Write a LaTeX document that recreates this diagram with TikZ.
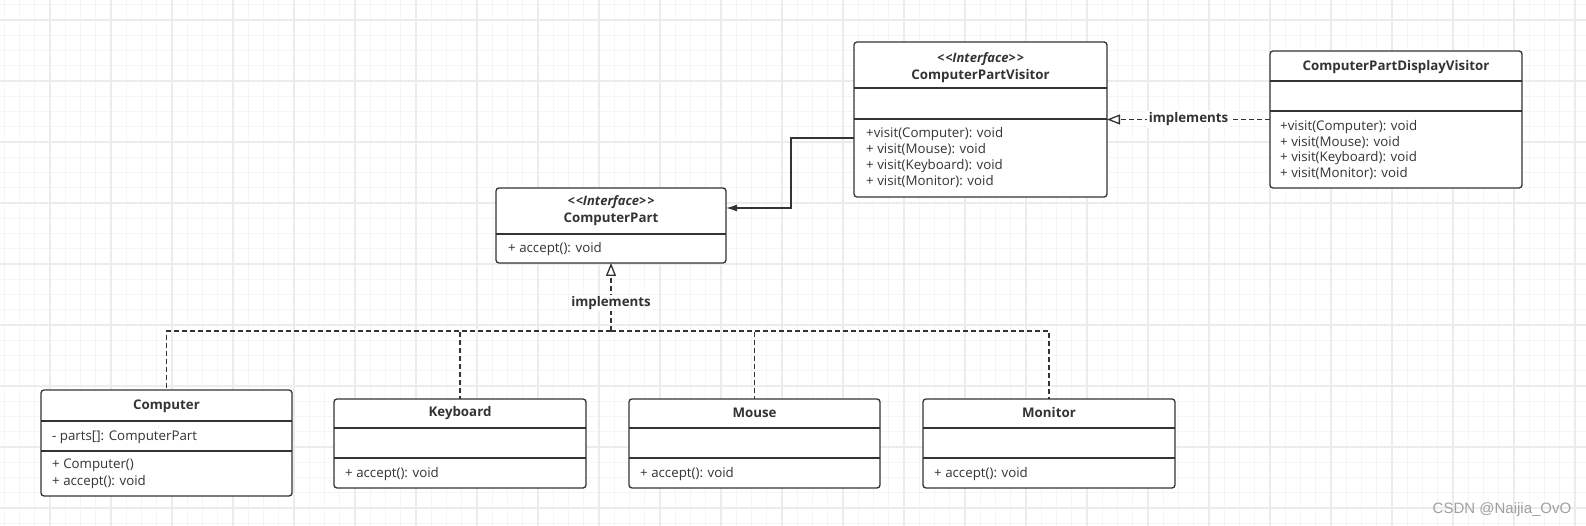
\documentclass[tikz,border=0pt]{standalone}
\usepackage{fontspec}
\setmainfont{Open Sans}
\newfontfamily\wmfont{Liberation Sans}
\usetikzlibrary{arrows.meta}
\definecolor{linec}{HTML}{333333}
\definecolor{txt}{HTML}{333333}
\definecolor{gridminor}{HTML}{F5F5F5}
\definecolor{gridmajor}{HTML}{ECECEC}
\definecolor{wm}{HTML}{A0A0A0}
\tikzset{
  cls/.style={draw=linec, line width=1.3pt, rounded corners=3pt, fill=white, inner sep=0pt, outer sep=0pt},
  divl/.style={draw=linec, line width=1.3pt},
  ttl/.style={font=\bfseries\fontsize{13.3}{15}\selectfont, text=txt, inner sep=0pt},
  stereo/.style={font=\bfseries\itshape\fontsize{13}{15}\selectfont, text=txt, inner sep=0pt},
  mth/.style={font=\fontsize{13.3}{15}\selectfont, anchor=west, inner sep=0pt, text=txt, text height=10pt, text depth=3.5pt},
  impl/.style={draw=linec, line width=1.4pt, dash pattern=on 5pt off 3pt},
  impltip/.style={-{Triangle[open, length=13pt, width=10pt, line width=1.3pt]}},
  assoc/.style={draw=linec, line width=1.3pt, -{Latex[length=11pt, width=7pt]}},
  lbl/.style={font=\bfseries\fontsize{13.3}{15}\selectfont, text=txt, fill=white, inner sep=1.5pt},
}
\newcommand{\stereotxt}{<\kern1pt<Interface>\kern1pt>}
\begin{document}
\begin{tikzpicture}[x=1pt, y=-1pt]
\useasboundingbox (0,0) rectangle (1586,526);
\fill[white] (0,0) rectangle (1586,526);
% grid
\foreach \i in {0,...,103} {\draw[gridminor, line width=1pt] (4.25+15.25*\i,0) -- (4.25+15.25*\i,526);}
\foreach \i in {0,...,34} {\draw[gridminor, line width=1pt] (0,4.75+15.25*\i) -- (1586,4.75+15.25*\i);}
\foreach \i in {0,...,25} {\draw[gridmajor, line width=1.3pt] (50+61*\i,0) -- (50+61*\i,526);}
\foreach \i in {0,...,8} {\draw[gridmajor, line width=1.3pt] (0,20+61*\i) -- (1586,20+61*\i);}

% ComputerPartVisitor
\node[cls, minimum width=253pt, minimum height=155pt] (V) at (980.5,119.5) {};
\draw[divl] (V.west |- 0,88) -- (V.east |- 0,88);
\draw[divl] (V.west |- 0,119) -- (V.east |- 0,119);
\node[stereo] (Vs) at (980.5,59) {\stereotxt};
\node[ttl] (Vt) at (980.5,76) {ComputerPartVisitor};
\node[mth] (Vm1) at (866,134) {+visit(Computer): void};
\node[mth] (Vm2) at (866,150) {+ visit(Mouse): void};
\node[mth] (Vm3) at (866,166) {+ visit(Keyboard): void};
\node[mth] (Vm4) at (866,182) {+ visit(Monitor): void};

% ComputerPartDisplayVisitor
\node[cls, minimum width=252pt, minimum height=137pt] (D) at (1396,119.5) {};
\draw[divl] (D.west |- 0,81) -- (D.east |- 0,81);
\draw[divl] (D.west |- 0,111) -- (D.east |- 0,111);
\node[ttl] (Dt) at (1396,67) {ComputerPartDisplayVisitor};
\node[mth] (Dm1) at (1280,127) {+visit(Computer): void};
\node[mth] (Dm2) at (1280,143) {+ visit(Mouse): void};
\node[mth] (Dm3) at (1280,158) {+ visit(Keyboard): void};
\node[mth] (Dm4) at (1280,174) {+ visit(Monitor): void};

% ComputerPart
\node[cls, minimum width=230pt, minimum height=75pt] (P) at (611,225.5) {};
\draw[divl] (P.west |- 0,234) -- (P.east |- 0,234);
\node[stereo] (Ps) at (611,202) {\stereotxt};
\node[ttl] (Pt) at (611,219) {ComputerPart};
\node[mth] (Pm1) at (508,249) {+ accept(): void};

% Computer
\node[cls, minimum width=251pt, minimum height=106pt] (C) at (166.5,443) {};
\draw[divl] (C.west |- 0,421) -- (C.east |- 0,421);
\draw[divl] (C.west |- 0,451) -- (C.east |- 0,451);
\node[ttl] (Ct) at (166.5,406) {Computer};
\node[mth] (Ca1) at (52,437) {- parts[]: ComputerPart};
\node[mth] (Cm1) at (52,465) {+ Computer()};
\node[mth] (Cm2) at (52,482) {+ accept(): void};

% Keyboard
\node[cls, minimum width=252pt, minimum height=89pt] (K) at (460,443.5) {};
\draw[divl] (K.west |- 0,428) -- (K.east |- 0,428);
\draw[divl] (K.west |- 0,458) -- (K.east |- 0,458);
\node[ttl] (Kt) at (460,413) {Keyboard};
\node[mth] (Km1) at (345,474) {+ accept(): void};

% Mouse
\node[cls, minimum width=251pt, minimum height=89pt] (Ms) at (754.5,443.5) {};
\draw[divl] (Ms.west |- 0,428) -- (Ms.east |- 0,428);
\draw[divl] (Ms.west |- 0,458) -- (Ms.east |- 0,458);
\node[ttl] (Mst) at (754.5,413) {Mouse};
\node[mth] (Msm1) at (640,474) {+ accept(): void};

% Monitor
\node[cls, minimum width=252pt, minimum height=89pt] (Mn) at (1049,443.5) {};
\draw[divl] (Mn.west |- 0,428) -- (Mn.east |- 0,428);
\draw[divl] (Mn.west |- 0,458) -- (Mn.east |- 0,458);
\node[ttl] (Mnt) at (1049,413) {Monitor};
\node[mth] (Mnm1) at (934,474) {+ accept(): void};

% association
\coordinate (bend) at (791,138);
\draw[assoc] ([yshift=-18.5pt]V.west) -- (bend) |- ([yshift=17.5pt]P.east);

% implements (visitor)
\draw[impl, impltip] (D.west) -- node[lbl, pos=0.5] (L1) {implements} (V.east);

% implements (parts)
\coordinate (jn) at (611,331);
\draw[impl] (jn) -| (C.north);
\draw[impl] (jn) -| (K.north);
\draw[impl] (jn) -| (Ms.north);
\draw[impl] (jn) -| (Mn.north);
\draw[impl, impltip] (jn) -- (P.south);
\node[lbl] (L2) at (611,303) {implements};

% watermark
\node[font=\wmfont\fontsize{15}{17}\selectfont, text=wm, inner sep=0pt] (W) at (1502,510) {CSDN @Naijia\_OvO};
\end{tikzpicture}
\end{document}
